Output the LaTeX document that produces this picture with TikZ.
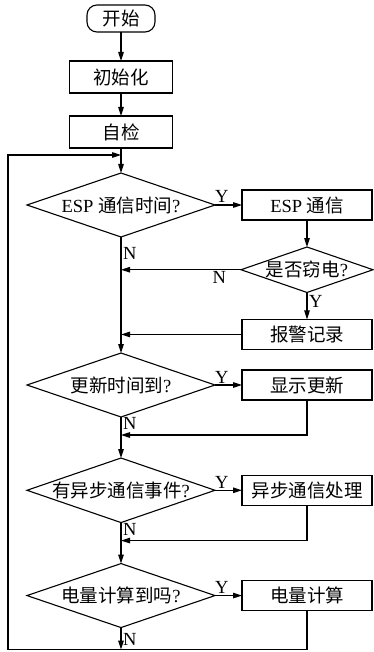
\documentclass[tikz,border=0pt]{standalone}
\usepackage{fontspec}
\setmainfont{Liberation Serif}
\newfontfamily\cjk{Noto Sans CJK SC}
\usetikzlibrary{arrows.meta,positioning,shapes.geometric}

\begin{document}
\begin{tikzpicture}[
  x=1pt, y=1pt,
  node distance=27pt,
  every node/.style={font=\fontsize{18.5}{20}\selectfont, outer sep=0pt},
  startbox/.style={
    draw,
    rounded corners=10pt,
    minimum width=68pt,
    minimum height=27pt,
    inner sep=0pt
  },
  mainbox/.style={
    draw,
    minimum width=103pt,
    minimum height=32pt,
    inner sep=0pt
  },
  sidebox/.style={
    draw,
    minimum width=130pt,
    minimum height=30pt,
    inner sep=0pt
  },
  bigtest/.style={
    draw,
    diamond,
    aspect=2.9,
    minimum width=188pt,
    minimum height=64pt,
    inner sep=0pt
  },
  smalltest/.style={
    draw,
    diamond,
    aspect=2.9,
    minimum width=132pt,
    minimum height=45pt,
    inner sep=0pt
  },
  lbl/.style={inner sep=2pt},
  arrow/.style={-{Triangle[length=9pt,width=5.5pt]}, line width=1.1pt},
  line width=1.1pt
]
\useasboundingbox (0,0) rectangle (374,-652);

% main column
\node[startbox] (start) at (121,-18.5) {{\cjk 开始}};
\node[mainbox, below=29pt of start] (init) {{\cjk 初始化}};
\node[mainbox, below=23pt of init] (check) {{\cjk 自检}};
\node[bigtest, below=25pt of check] (espq) {ESP {\cjk 通信时间}?};
\node[bigtest, below=116pt of espq] (updq) {{\cjk 更新时间到}?};
\node[bigtest, below=41pt of updq] (asyq) {{\cjk 有异步通信事件}?};
\node[bigtest, below=41pt of asyq] (powq) {{\cjk 电量计算到吗}?};

% right column
\node[sidebox, right=of espq] (esp) {ESP {\cjk 通信}};
\node[smalltest, below=of esp] (theft) {{\cjk 是否窃电}?};
\node[sidebox, below=of theft] (alarm) {{\cjk 报警记录}};
\node[sidebox, right=of updq] (upd) {{\cjk 显示更新}};
\node[sidebox, right=of asyq] (asy) {{\cjk 异步通信处理}};
\node[sidebox, right=of powq] (pow) {{\cjk 电量计算}};

% join points
\coordinate[above=18pt of espq] (loopin);
\coordinate[below=18pt of updq] (join1);
\coordinate[below=18pt of asyq] (join2);
\coordinate[below=22pt of powq] (bottom);
\coordinate[left=113pt of bottom] (corner);

\draw[arrow] (start) -- (init);
\draw[arrow] (init) -- (check);
\draw[arrow] (check) -- (espq);
\draw[arrow] (espq) -- node[lbl, above, pos=0.25] {Y} (esp);
\draw[arrow] (esp) -- (theft);
\draw[arrow] (theft) -- node[lbl, below, pos=0.18] {N} (theft -| espq);
\draw[arrow] (theft) -- node[lbl, right, pos=0.35] {Y} (alarm);
\draw[arrow] (alarm) -- (alarm -| espq);
\draw[arrow] (espq) -- node[lbl, right, pos=0.14] {N} (updq);
\draw[arrow] (updq) -- node[lbl, above, pos=0.25] {Y} (upd);
\draw[arrow] (upd.south) |- (join1);
\draw[arrow] (updq) -- node[lbl, right, pos=0.15] {N} (asyq);
\draw[arrow] (asyq) -- node[lbl, above, pos=0.25] {Y} (asy);
\draw[arrow] (asy.south) |- (join2);
\draw[arrow] (asyq) -- node[lbl, right, pos=0.16] {N} (powq);
\draw[arrow] (powq) -- node[lbl, above, pos=0.25] {Y} (pow);
\draw[arrow] (powq) -- node[lbl, right, pos=0.55] {N} (bottom);
\draw[arrow] (pow.south) |- (corner) |- (loopin);
\end{tikzpicture}
\end{document}
